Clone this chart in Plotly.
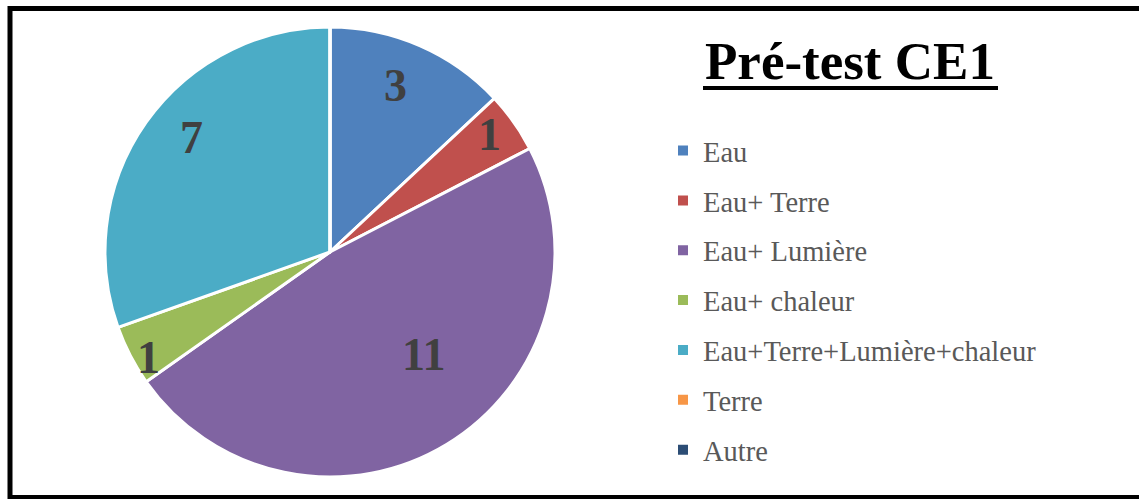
import math
import plotly.graph_objects as go

W, H = 1139, 499

categories = ["Eau", "Eau+ Terre", "Eau+ Lumière", "Eau+ chaleur",
              "Eau+Terre+Lumière+chaleur", "Terre", "Autre"]
values = [3, 1, 11, 1, 7, 0, 0]
colors = ["#4F81BD", "#C0504D", "#8064A2", "#9BBB59", "#4BACC6", "#F79646", "#2C4D75"]
title_text = "Pré-test CE1"

# pie geometry (pixels) and label placement style (best-fit look)
cx, cy, R = 330, 252, 225
label_radius = [0.79, 0.88, 0.62, 0.935, 0.795, 0.8, 0.8]
label_angle_shift = [-2, -1, -11, -3, 4, 0, 0]

def px_x(x):
    return x / W

def px_y(y):
    return 1 - y / H

fig = go.Figure()
fig.add_trace(go.Pie(
    labels=categories, values=values, sort=False, direction="clockwise",
    rotation=0, marker=dict(colors=colors, line=dict(color="white", width=3)),
    textinfo="none", showlegend=False, hoverinfo="label+value",
    domain=dict(x=[px_x(cx - R), px_x(cx + R)], y=[px_y(cy + R), px_y(cy - R)]),
))

# legend entries
for i, (c, col) in enumerate(zip(categories, colors)):
    fig.add_trace(go.Scatter(
        x=[None], y=[None], mode="markers", name=c, legendgroup=str(i),
        marker=dict(symbol="square", size=10, color=col),
    ))

# data labels computed from the values
total = sum(values)
cum = 0
for v, rf, da in zip(values, label_radius, label_angle_shift):
    if v > 0:
        mid = (cum + v / 2) / total * 2 * math.pi + math.radians(da)
        lx = cx + rf * R * math.sin(mid)
        ly = cy - rf * R * math.cos(mid)
        fig.add_annotation(
            x=px_x(lx), y=px_y(ly - 1), xref="paper", yref="paper",
            text=f"<b>{v}</b>", showarrow=False, xanchor="center", yanchor="middle",
            font=dict(family="Liberation Serif", size=46, color="#404040"),
        )
    cum += v

fig.add_annotation(
    x=px_x(850), y=px_y(61), xref="paper", yref="paper", text=f"<b>{title_text}</b>",
    showarrow=False, xanchor="center", yanchor="middle",
    font=dict(family="Liberation Serif", size=53, color="black"),
)

L, T, B, Rr = px_x(10), px_y(8.5), px_y(497.5), px_x(1145)
frame_path = f"M {Rr} {T} L {L} {T} L {L} {B} L {Rr} {B}"

fig.update_layout(
    width=W, height=H, margin=dict(l=0, r=0, t=0, b=0),
    paper_bgcolor="white", plot_bgcolor="white",
    xaxis=dict(visible=False), yaxis=dict(visible=False),
    showlegend=True,
    legend=dict(x=px_x(663), y=px_y(125.5), xanchor="left", yanchor="top",
                font=dict(family="Liberation Serif", size=28.5, color="#595959"),
                tracegroupgap=9.8, bgcolor="rgba(0,0,0,0)"),
    shapes=[
        dict(type="line", xref="paper", yref="paper", x0=px_x(703), x1=px_x(998),
             y0=px_y(88), y1=px_y(88), line=dict(color="black", width=4)),
        dict(type="path", xref="paper", yref="paper", path=frame_path,
             line=dict(color="black", width=5)),
    ],
)

fig.write_html("out.html", config={"displayModeBar": False},
               post_script="document.body.style.margin='0';")
